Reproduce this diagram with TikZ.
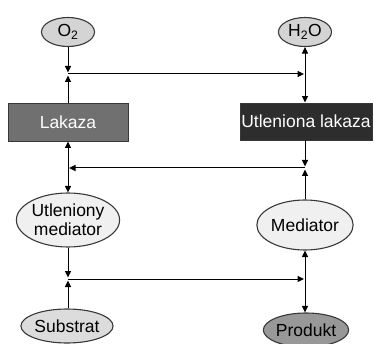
\documentclass[tikz,border=0pt]{standalone}
\usepackage{fontspec}
\setmainfont{Liberation Sans}
\usetikzlibrary{shapes.geometric,arrows.meta}
\definecolor{oxfill}{HTML}{D4D4D4}
\definecolor{medfill}{HTML}{F0F0F0}
\definecolor{subfill}{HTML}{DCDCDC}
\definecolor{prodfill}{HTML}{989898}
\definecolor{lakfill}{HTML}{707070}
\definecolor{utlfill}{HTML}{2D2D2D}
\definecolor{edge}{HTML}{383838}
\begin{document}
\begin{tikzpicture}[x=1pt,y=-1pt,
  font=\fontsize{17.5}{18}\selectfont,
  oval/.style={ellipse,draw=edge,line width=1.1pt,inner sep=0pt},
  boxnode/.style={rectangle,draw=edge,line width=0.9pt,inner sep=1pt,text=white},
  conn/.style={line width=1pt,-{Triangle[length=6.5pt,width=6pt]}},
  conn2/.style={line width=1pt,{Triangle[length=6.5pt,width=6pt]}-{Triangle[length=6.5pt,width=6pt]}}]
\useasboundingbox (0,0) rectangle (374,344);
% nodes
\node[oval,fill=oxfill,minimum width=53pt,minimum height=29pt] (o2) at (68,32) {O\textsubscript{2}};
\node[oval,fill=oxfill,minimum width=53pt,minimum height=29pt] (h2o) at (305,32) {H\textsubscript{2}O};
\node[boxnode,fill=lakfill,minimum width=120pt,minimum height=38pt] (lak) at (68,122) {Lakaza};
\node[boxnode,fill=utlfill,minimum width=132pt,minimum height=37pt,inner sep=0pt] (utl) at (306,121.5) {Utleniona lakaza};
\node[oval,fill=medfill,minimum width=94pt,minimum height=54pt,align=center,font=\fontsize{17.5}{19}\selectfont] (umed) at (68,220) {Utleniony\\mediator};
\node[oval,fill=medfill,minimum width=92pt,minimum height=50pt] (med) at (305,225) {Mediator};
\node[oval,fill=subfill,minimum width=82pt,minimum height=34pt] (sub) at (67,326) {Substrat};
\node[oval,fill=prodfill,minimum width=82pt,minimum height=34pt] (prod) at (306,330) {Produkt};
% junctions
\coordinate (j1l) at (68,74);
\coordinate (j1r) at (305,74);
\coordinate (j2l) at (68,168);
\coordinate (j2r) at (305,168);
\coordinate (j3l) at (68,279);
\coordinate (j3r) at (305,279);
% top
\draw[conn,shorten >=1.5pt] (o2.south) -- (j1l);
\draw[conn,shorten >=1.5pt] (lak.north) -- (j1l);
\draw[conn,shorten >=1pt] (j1l) -- (j1r);
\draw[conn2] (h2o.south) -- (utl.north -| h2o.south);
% middle
\draw[conn,shorten >=1.5pt] (utl.south -| j2r) -- (j2r);
\draw[conn,shorten >=1.5pt] (med.north) -- (j2r);
\draw[conn,shorten >=1pt] (j2r) -- (j2l);
\draw[conn2] (lak.south) -- (umed.north);
% bottom
\draw[conn,shorten >=1.5pt] (umed.south) -- (j3l);
\draw[conn,shorten >=1.5pt] (sub.north -| j3l) -- (j3l);
\draw[conn,shorten >=1pt] (j3l) -- (j3r);
\draw[conn2] (med.south) -- (prod.north -| med.south);
\end{tikzpicture}
\end{document}
